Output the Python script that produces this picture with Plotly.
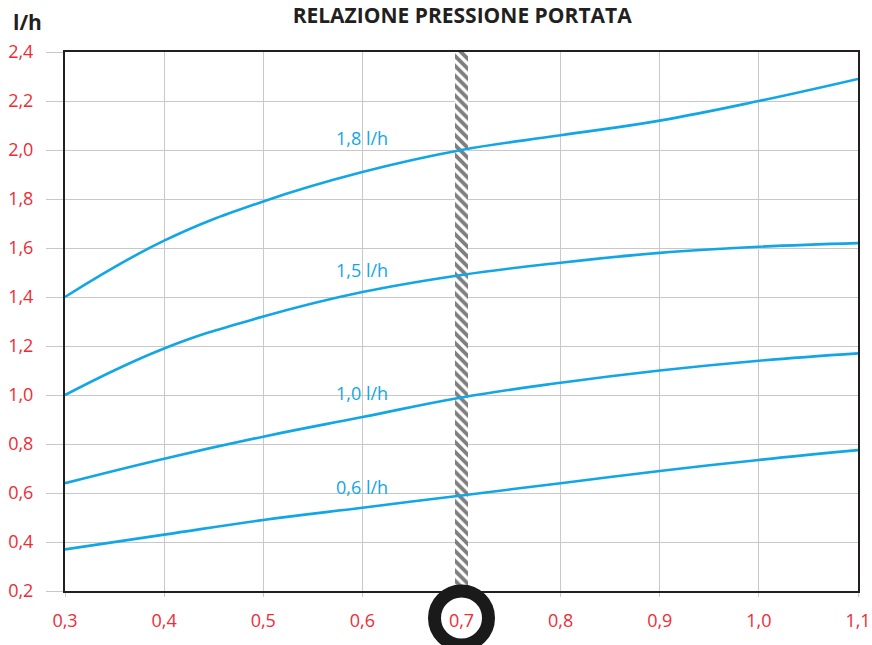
import plotly.graph_objects as go

# pressione (bar) sull'asse x
pressione = [0.3, 0.4, 0.5, 0.6, 0.7, 0.8, 0.9, 1.0, 1.1]

# portate
portata_18 = [1.40, 1.63, 1.79, 1.91, 2.00, 2.06, 2.12, 2.20, 2.29]
portata_15 = [1.00, 1.19, 1.32, 1.42, 1.49, 1.54, 1.58, 1.605, 1.62]
portata_10 = [0.64, 0.74, 0.83, 0.91, 0.99, 1.05, 1.10, 1.14, 1.17]
portata_06 = [0.37, 0.43, 0.49, 0.54, 0.59, 0.64, 0.69, 0.735, 0.775]

serie = [('1,8 l/h', portata_18, 2.05),
         ('1,5 l/h', portata_15, 1.51),
         ('1,0 l/h', portata_10, 1.01),
         ('0,6 l/h', portata_06, 0.625)]

x_evidenza = 0.7
blu = '#12a6e4'
rosso = '#ef2b36'

fig = go.Figure()

# banda tratteggiata verticale a 0,7
fig.add_trace(go.Bar(
    x=[x_evidenza], y=[2.2], base=[0.2], width=0.013,
    marker=dict(color='white', line_width=0,
                pattern=dict(shape='\\', fgcolor='#000000', bgcolor='white',
                             size=7, solidity=0.55)),
    showlegend=False, hoverinfo='skip'
))

for nome, valori, y_lab in serie:
    fig.add_trace(go.Scatter(
        x=pressione, y=valori, mode='lines', name=nome,
        line=dict(color=blu, width=2.6, shape='spline', smoothing=1.2),
        showlegend=False
    ))
    fig.add_annotation(x=0.6, y=y_lab, text=nome, showarrow=False,
                       font=dict(color=blu, size=18), yanchor='middle')

# cerchio intorno a 0,7 (coordinate paper per non essere tagliato)
fig.add_shape(type='circle', xref='paper', yref='paper',
              xsizemode='pixel', ysizemode='pixel',
              xanchor=(x_evidenza - 0.3) / 0.8, yanchor=0,
              x0=-27, x1=27, y0=-54, y1=0,
              line=dict(color='#1a1a1a', width=13), layer='above')

fig.update_xaxes(range=[0.3, 1.1], tickvals=pressione, tickformat='.1f',
                 showgrid=True, gridcolor='#c8c8c8', gridwidth=1,
                 ticks='outside', ticklen=4, tickcolor='#c8c8c8',
                 ticklabelstandoff=8,
                 tickfont=dict(color=rosso, size=18),
                 showline=True, linecolor='#231f20', linewidth=2, mirror=True,
                 zeroline=False)
fig.update_yaxes(range=[0.2, 2.4], dtick=0.2, tickformat='.1f',
                 showgrid=True, gridcolor='#c8c8c8', gridwidth=1,
                 ticks='outside', ticklen=17, tickcolor='#c8c8c8',
                 ticklabelstandoff=9,
                 tickfont=dict(color=rosso, size=18),
                 showline=True, linecolor='#231f20', linewidth=2, mirror=True,
                 zeroline=False)

fig.add_annotation(xref='paper', yref='paper', x=-0.068, y=1.056,
                   xanchor='left', yanchor='middle', showarrow=False,
                   text='<b>l/h</b>', font=dict(size=21, color='#231f20'))

fig.update_layout(
    width=872, height=645,
    separators=',.',
    font=dict(family='Open Sans, Liberation Sans, sans-serif'),
    title=dict(text='<b>RELAZIONE PRESSIONE PORTATA</b>',
               x=0.53, xanchor='center', y=0.975, yanchor='middle',
               font=dict(size=21, color='#231f20')),
    margin=dict(l=65, r=14, t=52, b=54, autoexpand=False),
    paper_bgcolor='white', plot_bgcolor='white',
    bargap=0
)

# togli il margine di default del body
fig.write_html("out.html", config={'displayModeBar': False},
               post_script="document.body.style.margin='0';document.body.style.overflow='hidden';")
